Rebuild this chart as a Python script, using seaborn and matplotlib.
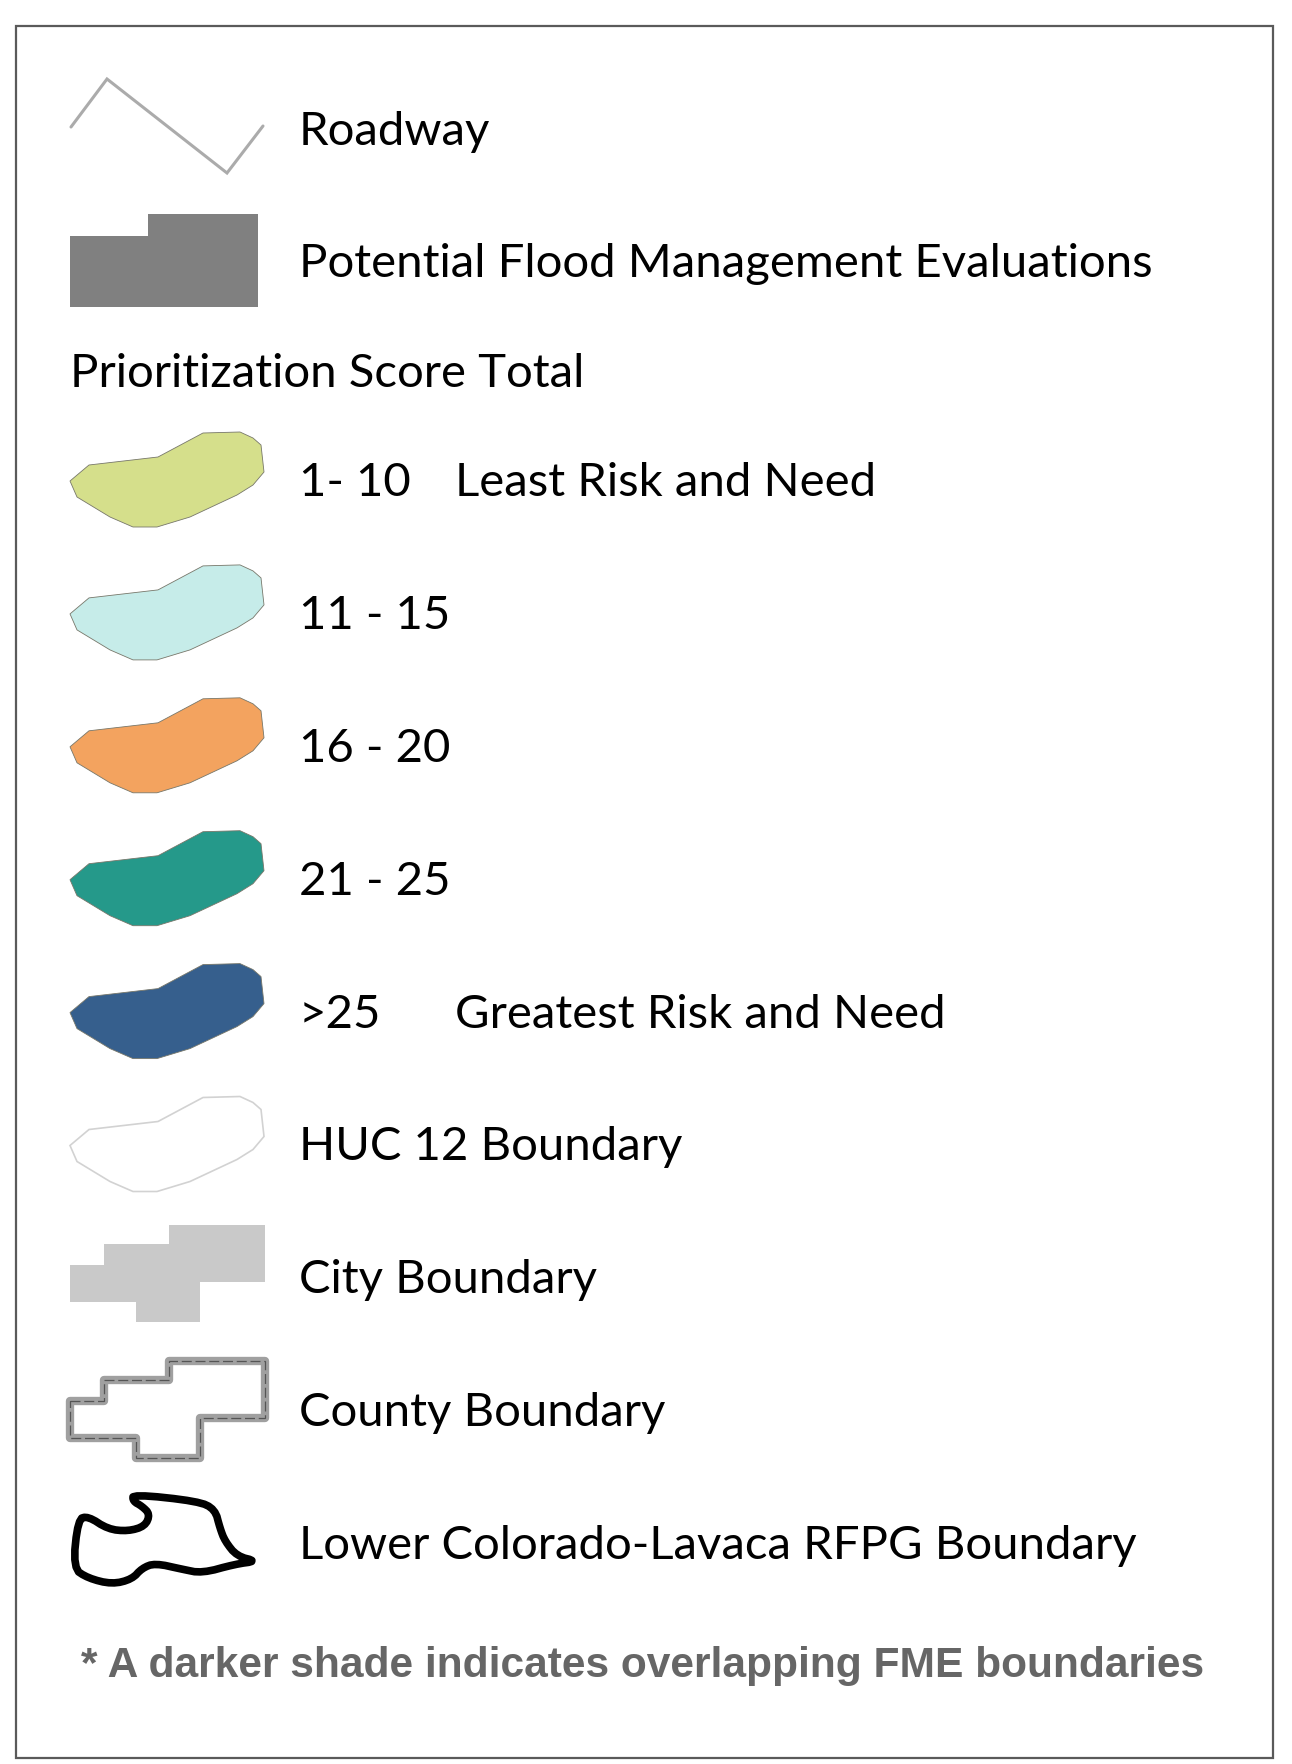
import numpy as np
import matplotlib
matplotlib.use("Agg")  # no display
import matplotlib.pyplot as plt
from matplotlib.patches import Polygon, Rectangle
import seaborn as sns


# ---------------------------------------------------------------------------
# LEGEND CONTENT
# ---------------------------------------------------------------------------
score_title = "Prioritization Score Total"
score_ranges = ["1- 10", "11 - 15", "16 - 20", "21 - 25", ">25"]
score_notes = ["Least Risk and Need", "", "", "", "Greatest Risk and Need"]
score_colors = ["#d5df8b", "#c6ece9", "#f3a35f", "#25998a", "#365f8d"]

line_labels = ["Roadway", "Potential Flood Management Evaluations"]
boundary_labels = ["HUC 12 Boundary", "City Boundary", "County Boundary",
                   "Lower Colorado-Lavaca RFPG Boundary"]
footnote = "* A darker shade indicates overlapping FME boundaries"

# glyph outlines (pixels, relative to the left edge / vertical centre of a row)
blob_x = [0, 19, 88, 133, 170, 183, 191, 194, 183, 167, 120, 87, 63, 40, 7]
blob_y = [1, -15, -23, -47, -48, -42, -35, -8, 5, 15, 37, 47, 47, 37, 17]
road_x = [0, 36, 156, 192]
road_y = [0, -48, 46, -1]
fme_x = [0, 78, 78, 188, 188, 0]
fme_y = [-23, -23, -45, -45, 48, 48]
city_x = [0, 34, 34, 99, 99, 195, 195, 130, 130, 66, 66, 0]
city_y = [-9, -9, -30, -30, -49, -49, 8, 8, 48, 48, 28, 28]
rfpg_x = [63, 128, 145, 150, 155, 167, 187, 165, 132, 112, 85, 72, 62, 42,
          18, 3, 8, 18, 38, 58, 75, 80, 72, 63]
rfpg_y = [-45, -38, -30, -11, 2, 17, 22, 25, 34, 30, 24, 29, 40, 45,
          39, 29, -20, -23, -10, -8, -13, -25, -33, -38]


# ---------------------------------------------------------------------------
# LAYOUT
# ---------------------------------------------------------------------------
W, H = 1292, 1764
GLYPH_X = 70
TEXT_X = 299
NOTE_X = 455
ROW0 = 480
STEP = 132.9

sns.set_theme(style="white")
plt.rcParams["font.family"] = ["Lato", "DejaVu Sans"]

fig = plt.figure(figsize=(W / 100, H / 100), dpi=100)
ax = fig.add_axes([0, 0, 1, 1])
ax.set_xlim(0, W)
ax.set_ylim(H, 0)
ax.axis("off")
renderer = fig.canvas.get_renderer()


def fit_size(txt, target_px, base=30, **kw):
    t = ax.text(0, 0, txt, fontsize=base, **kw)
    w = t.get_window_extent(renderer=renderer).width
    t.remove()
    return base * target_px / w


FS = fit_size(line_labels[1], 851)
FOOT_FAMILY = ["Liberation Sans Narrow", "Liberation Sans"]
FOOT_FS = fit_size(footnote, 1125, family=FOOT_FAMILY, weight="bold")


def label(y, txt, x=TEXT_X):
    ax.text(x, y + 16, txt, fontsize=FS, color="black", va="baseline", ha="left")


def shape(xs, ys, yc, **kw):
    pts = np.column_stack([np.asarray(xs) + GLYPH_X, np.asarray(ys) + yc])
    ax.add_patch(Polygon(pts, closed=True, **kw))


def chaikin(xs, ys, n=2):
    # round off the corners of a hand-drawn outline
    p = np.column_stack([xs, ys]).astype(float)
    for _ in range(n):
        q = np.roll(p, -1, axis=0)
        p = np.vstack([0.75 * p + 0.25 * q, 0.25 * p + 0.75 * q]).reshape(2, -1, 2)
        p = p.transpose(1, 0, 2).reshape(-1, 2)
    return p[:, 0], p[:, 1]


# frame
ax.add_patch(Rectangle((16, 26), 1257, 1732, fill=False, ec="#5a5a5a", lw=1.6))

# roadway
y = 127
ax.plot(np.asarray(road_x) + GLYPH_X + 1, np.asarray(road_y) + y,
        color="#ababab", lw=2.2, solid_joinstyle="miter")
label(129, line_labels[0])

# potential FME
y = 259
shape(fme_x, fme_y, y, fc="#808080", ec="none")
label(261, line_labels[1])

# score classes
label(371, score_title, x=70)
for i, (rng, note, col) in enumerate(zip(score_ranges, score_notes, score_colors)):
    yc = ROW0 + STEP * i
    shape(blob_x, blob_y, yc, fc=col, ec="#77776a", lw=0.6)
    label(yc, rng)
    if note:
        label(yc, note, x=NOTE_X)

# HUC 12
yc = ROW0 + STEP * 5
shape(blob_x, blob_y, yc, fc="white", ec="#d2d2d2", lw=1.2)
label(yc, boundary_labels[0])

# city
yc = ROW0 + STEP * 6
shape(city_x, city_y, yc - 3, fc="#c9c9c9", ec="none")
label(yc, boundary_labels[1])

# county
yc = ROW0 + STEP * 7
shape(city_x, city_y, yc, fill=False, ec="#a0a0a0", lw=6, joinstyle="round")
shape(city_x, city_y, yc, fill=False, ec="#555555", lw=0.9, ls=(0, (8, 3)))
label(yc, boundary_labels[2])

# RFPG
yc = ROW0 + STEP * 8 - 4
sx, sy = chaikin(rfpg_x, rfpg_y)
shape(sx, sy, yc, fill=False, ec="black", lw=5.5, joinstyle="round")
label(yc + 4, boundary_labels[3])

# footnote
ax.text(81, 1666, footnote, fontsize=FOOT_FS, weight="bold", color="#666666",
        family=FOOT_FAMILY, va="center", ha="left")

fig.savefig("out.png", dpi=100)
